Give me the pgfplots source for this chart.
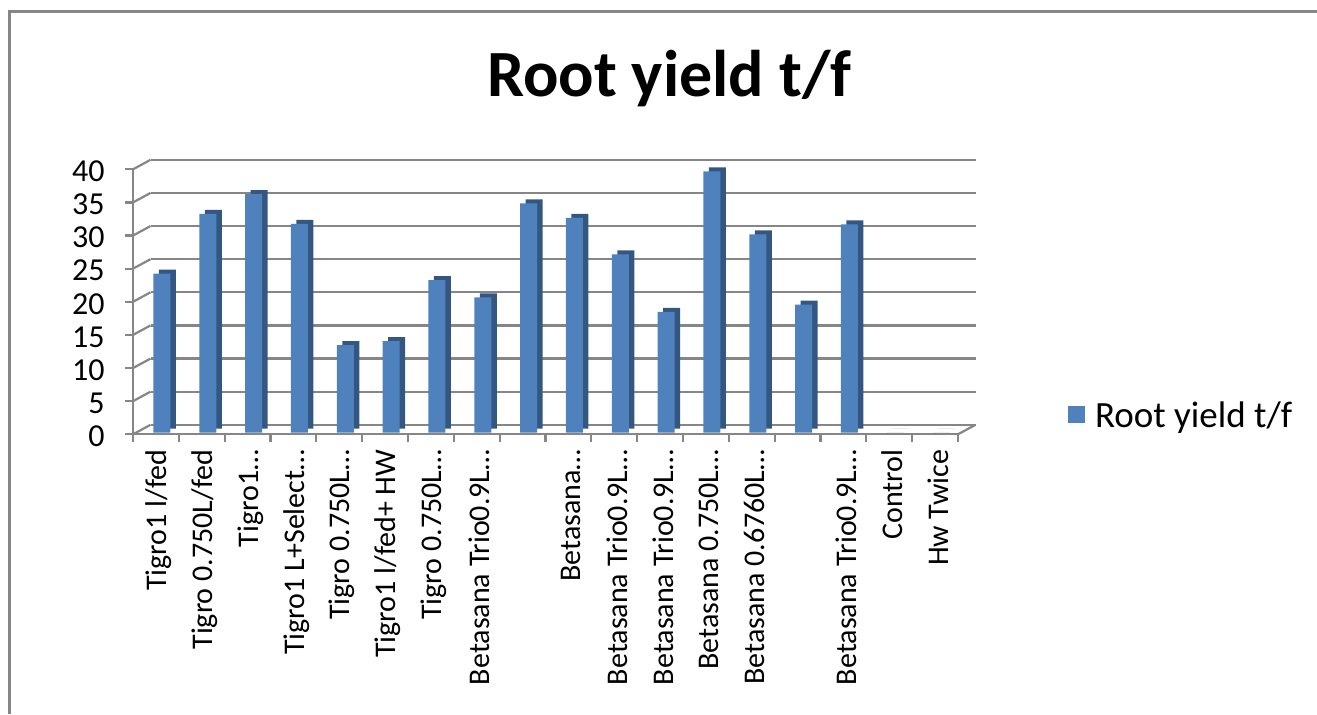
\documentclass[border=0pt]{standalone}
\usepackage{pgfplots}
\pgfplotsset{compat=1.18}
\usepackage{fontspec}
\setmainfont{Carlito}
\definecolor{barfront}{RGB}{79,129,189}
\definecolor{barside}{RGB}{52,87,130}
\definecolor{gridcol}{RGB}{134,134,134}
\pgfplotstableread{
x y
0 24.0
1 33.0
2 36.0
3 31.5
4 13.2
5 13.8
6 23.0
7 20.4
8 34.6
9 32.4
10 26.9
11 18.2
12 39.4
13 29.9
14 19.3
15 31.4
16 0
17 0
}\yielddata
\begin{document}
\begin{tikzpicture}
\path[use as bounding box] (0,0) rectangle (658.5pt,357pt);
\draw[gridcol, line width=1.5pt] (4.75pt,0) -- (4.75pt,351pt) -- (658.5pt,351pt);
\begin{axis}[
  at={(66.5pt,139.85pt)}, anchor=south west,
  scale only axis, width=412.5pt, height=132.5pt,
  clip=false,
  xmin=-0.5, xmax=17.5, ymin=0, ymax=40,
  axis x line*=bottom, axis y line*=left,
  axis line style={gridcol, line width=1.1pt, -},
  tick align=outside, major tick length=4pt,
  tick style={gridcol, line width=1.1pt},
  ytick={0,5,...,40},
  ymajorgrids,
  major grid style={gridcol, line width=1.1pt, xshift=8.75pt, yshift=4.75pt},
  xtick={-0.5,0.5,...,17.5}, xticklabels={},
  extra x ticks={0,1,...,17},
  extra x tick labels={Tigro1 l/fed, Tigro 0.750L/fed, Tigro1…, Tigro1 L+Select…, Tigro 0.750L…, Tigro1 l/fed+ HW, Tigro 0.750L…, Betasana Trio0.9L…, {}, Betasana…, Betasana Trio0.9L…, Betasana Trio0.9L…, Betasana 0.750L…, Betasana 0.6760L…, {}, Betasana Trio0.9L…, Control, Hw Twice},
  extra x tick style={tick style={draw=none}},
  xticklabel style={rotate=90, anchor=east, font=\fontsize{15}{17}\selectfont, inner sep=1pt, xshift=-2.5pt, yshift=-1.5pt},
  yticklabel style={font=\fontsize{16}{18}\selectfont, inner sep=1pt, xshift=-9pt, yshift=-1pt},
  /pgf/number format/assume math mode=true,
  title={Root yield t/f},
  title style={at={(0.65,1.228)}, anchor=base, font=\bfseries\fontsize{33}{38}\selectfont},
  legend style={at={(1.133,0.069)}, anchor=west, draw=none, fill=none, inner sep=0pt,
    font=\fontsize{18.5}{21}\selectfont},
  legend cell align=left,
]
\pgfplotsinvokeforeach{0,5,...,40}{
  \draw[gridcol, line width=1.1pt] (axis cs:-0.5,#1) -- ++(8.75pt,4.75pt);
}
\draw[gridcol, line width=1.1pt] (axis cs:17.5,0) -- ++(8.75pt,4.75pt);
\addplot[ybar, bar width=8.5pt, fill=barside, draw=none, xshift=5.75pt, yshift=2.9pt, forget plot]
  table[x=x, y=y] {\yielddata};
\addplot[ybar, bar width=8.5pt, fill=barfront, draw=none, xshift=3pt, yshift=0.9pt,
  legend image code/.code={\fill[barfront] (0pt,-4.25pt) rectangle (8.5pt,4.25pt);}]
  table[x=x, y=y] {\yielddata};
\addlegendentry{\hspace{3pt}Root yield t/f}
\end{axis}
\end{tikzpicture}
\end{document}
